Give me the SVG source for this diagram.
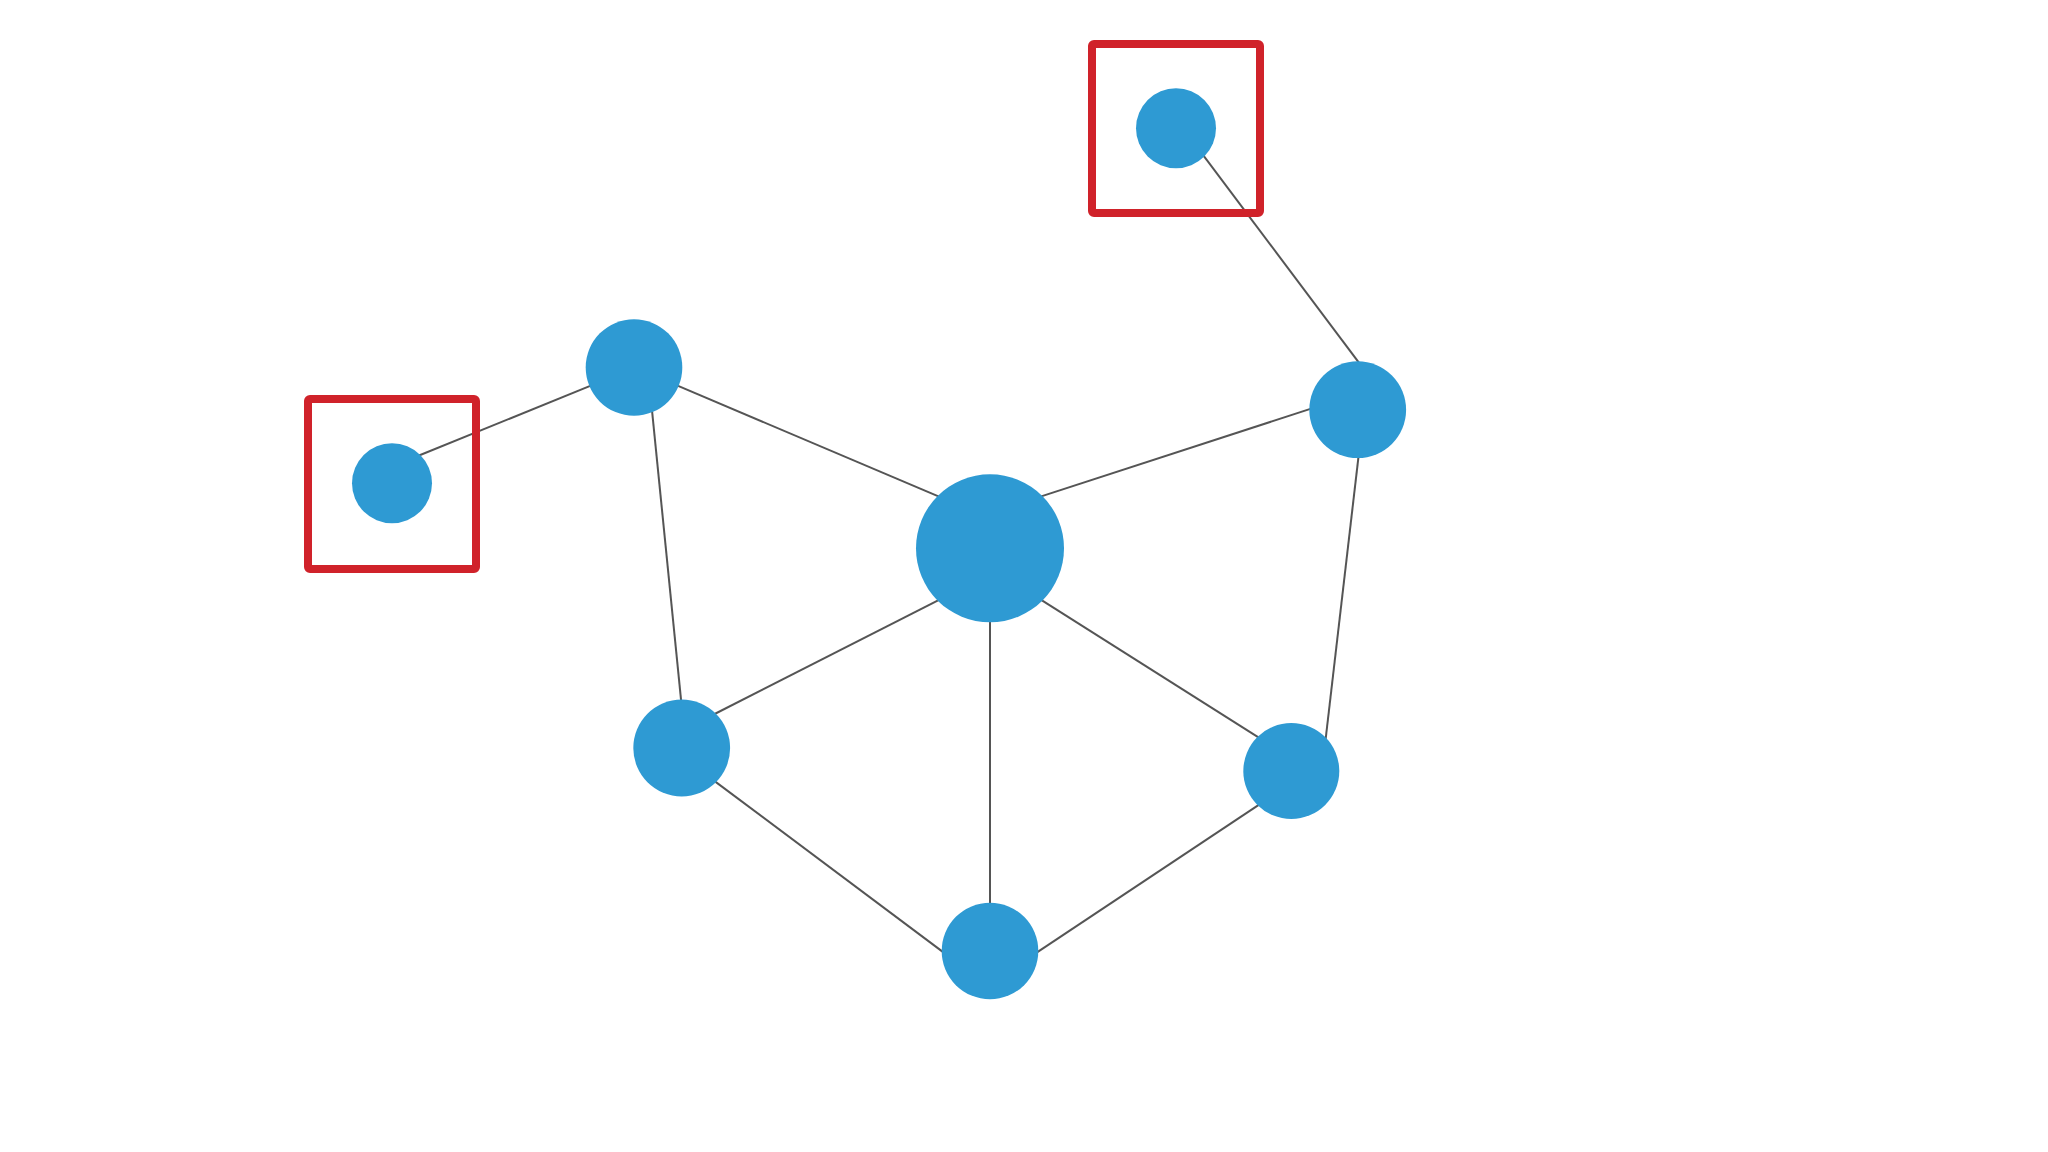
<svg xmlns="http://www.w3.org/2000/svg" width="2048" height="1152" viewBox="0 0 2048 1152">
<style>
.edge{stroke:#555;stroke-width:2;fill:none}
.node{fill:#2e9ad3}
.hl{fill:none;stroke:#d0222a;stroke-width:8;stroke-linejoin:round}
</style>
<rect width="2048" height="1152" fill="#ffffff"/>
<g id="connectors">
<line class="edge" x1="414.7" y1="457.3" x2="593.9" y2="384.4"/>
<line class="edge" x1="943.2" y1="498.3" x2="672.8" y2="383.7"/>
<line class="edge" x1="651.7" y1="407.3" x2="681.6" y2="705.3"/>
<line class="edge" x1="1036.6" y1="497.9" x2="1315" y2="407.4"/>
<line class="edge" x1="1200.7" y1="151.8" x2="1361.3" y2="365.8"/>
<line class="edge" x1="1359" y1="452.3" x2="1325.3" y2="742"/>
<line class="edge" x1="943" y1="597.9" x2="710.7" y2="716"/>
<line class="edge" x1="1037.2" y1="597.4" x2="1262.4" y2="739.9"/>
<line class="edge" x1="990" y1="616" x2="990" y2="909"/>
<line class="edge" x1="711.9" y1="779.1" x2="946.5" y2="954.6"/>
<line class="edge" x1="1261" y1="803.4" x2="1034" y2="954.3"/>
</g>
<g id="node-center"><circle class="node" cx="990" cy="548.3" r="74"/></g>
<g id="node-topleft"><circle class="node" cx="634" cy="367.5" r="48.3"/></g>
<g id="node-left"><circle class="node" cx="392" cy="483.3" r="40"/></g>
<g id="node-top"><circle class="node" cx="1176" cy="128.3" r="40"/></g>
<g id="node-right"><circle class="node" cx="1357.7" cy="409.7" r="48.4"/></g>
<g id="node-lowerleft"><circle class="node" cx="681.7" cy="748" r="48.4"/></g>
<g id="node-lowerright"><circle class="node" cx="1291.3" cy="771" r="48"/></g>
<g id="node-bottom"><circle class="node" cx="990" cy="951" r="48.3"/></g>
<g id="highlight-left"><rect class="hl" x="308" y="399" width="168" height="170" rx="2"/></g>
<g id="highlight-top"><rect class="hl" x="1092" y="44" width="168" height="169" rx="2"/></g>
</svg>
